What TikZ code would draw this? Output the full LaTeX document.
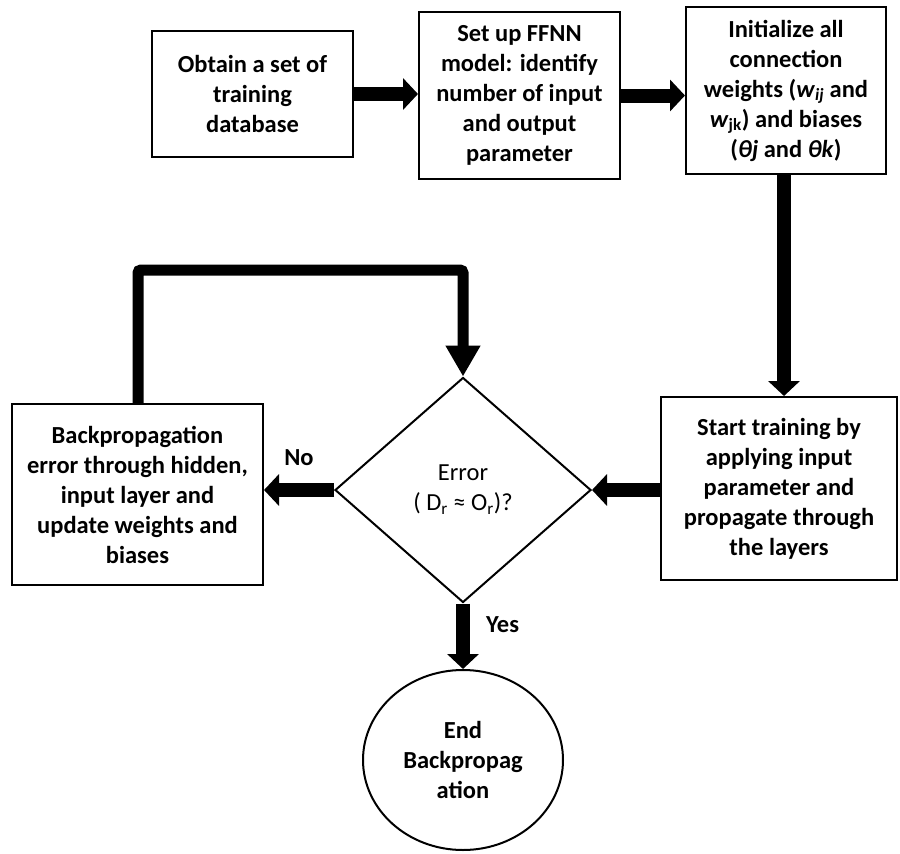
\documentclass[tikz,border=0pt]{standalone}
\usepackage{fontspec}
\setmainfont{Carlito}
\usepackage{tikz}
\usetikzlibrary{arrows.meta,shapes.geometric}
\tikzset{
  procbox/.style={draw, line width=2pt, inner sep=2pt, align=center, font=\bfseries},
  decbox/.style={draw, diamond, line width=2pt, inner sep=0pt, align=center,
    minimum width=256, minimum height=225},
  endbox/.style={draw, ellipse, line width=2pt, inner sep=0pt, align=center, font=\bfseries,
    minimum width=200, minimum height=180},
  fatarr/.style={line width=14pt, -{Triangle[length=15pt,width=31pt]}},
  looparr/.style={line width=11pt, rounded corners=3pt, -{Triangle[length=31pt,width=33pt]}},
  lbl/.style={font=\bfseries},
}

\begin{document}
\begin{tikzpicture}[x=1pt,y=-1pt]
  \fontsize{24.5}{30}\selectfont
  \useasboundingbox (0,0) rectangle (900,854);
  % top row
  \node[procbox, minimum width=201, minimum height=126] (obtain) at (252.5,94)
    {Obtain a set of\\training\\database};
  \node[procbox, minimum width=201, minimum height=167] (setup) at (519.5,95.5)
    {Set up FFNN\\model: identify\\number of input\\and output\\parameter};
  \node[procbox, minimum width=200, minimum height=167] (init) at (786,90.5)
    {Initialize all\\connection\\weights (\textit{w}\textsubscript{\textit{ij}} and\\
     \textit{w}\textsubscript{jk}) and biases\\(\textit{θj} and \textit{θk})};
  % middle row
  \node[procbox, minimum width=236, minimum height=183] (train) at (779,488.5)
    {Start training by\\applying input\\parameter and\\propagate through\\the layers};
  \node[decbox] (err) at (463,490)
    {Error\\( D\textsubscript{r} ≈ O\textsubscript{r})?};
  \node[procbox, minimum width=251, minimum height=181] (backprop) at (137.5,494.5)
    {Backpropagation\\error through hidden,\\input layer and\\update weights and\\biases};
  % end
  \node[endbox] (stop) at (463,760) {End\\Backpropag\\ation};
  \coordinate (looptop) at (138,270);

  \draw[fatarr] (obtain.east) -- (setup.west |- obtain.east);
  \draw[fatarr] (setup.east) -- (init.west |- setup.east);
  \draw[fatarr] (init.south -| 784,0) -- (train.north -| 784,0);
  \draw[fatarr] (train.west |- err.east) -- (err.east);
  \draw[fatarr] (err.west) -- (backprop.east |- err.west)
    node[lbl, midway, above=9pt] {No};
  \draw[fatarr] (err.south) -- (stop.north)
    node[lbl, pos=0.33, right=8pt] {Yes};
  \draw[looparr] (backprop.north -| looptop) -- (looptop) -- (err.north |- looptop) -- (err.north);
\end{tikzpicture}
\end{document}
